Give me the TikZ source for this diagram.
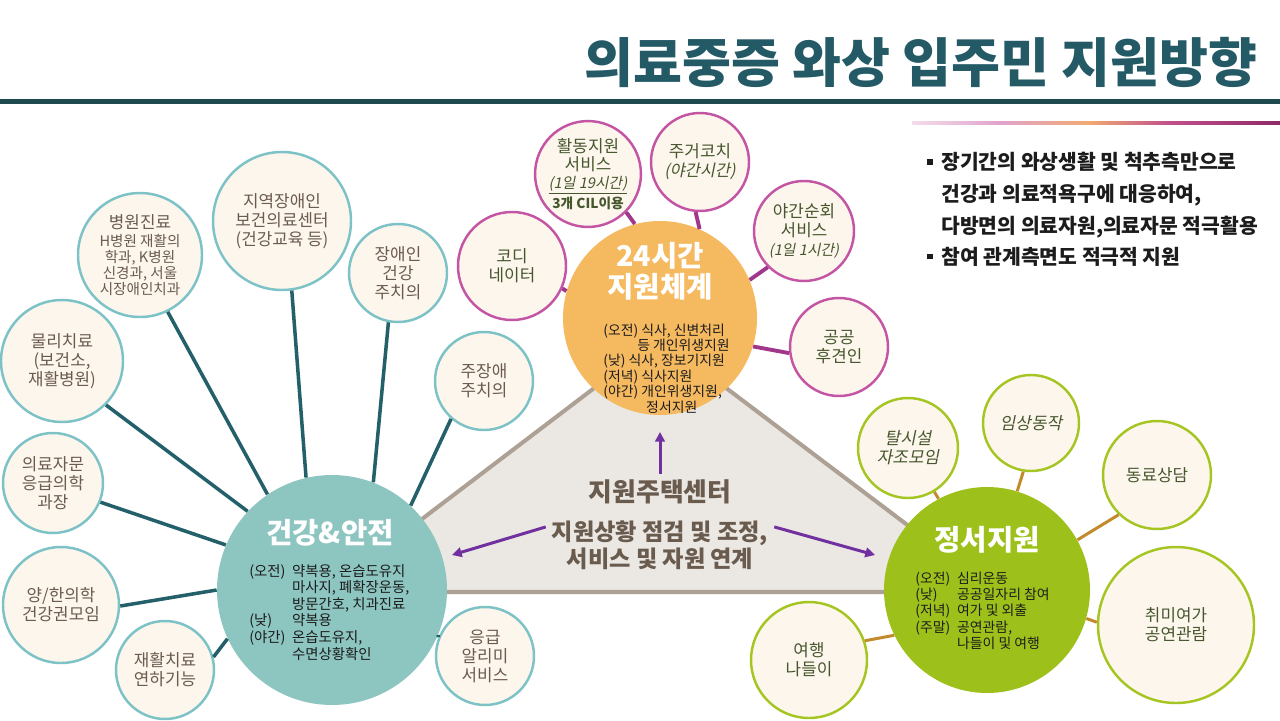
\documentclass[tikz,border=0pt]{standalone}
\usepackage{fontspec}
\setmainfont{Noto Sans CJK KR}
\newfontfamily\krslant[FakeSlant=0.2]{Noto Sans CJK KR}
\usetikzlibrary{arrows.meta}
\definecolor{titleteal}{HTML}{245A66}
\definecolor{barteal}{HTML}{1E4A4F}
\definecolor{cream}{HTML}{FDF6EC}
\definecolor{tealring}{HTML}{7CC2C6}
\definecolor{warmgrey}{HTML}{6B5B4E}
\definecolor{tealconn}{HTML}{23606A}
\definecolor{dayorange}{HTML}{F5B960}
\definecolor{healthteal}{HTML}{8DC5C0}
\definecolor{emogreen}{HTML}{9DC11A}
\definecolor{pinkring}{HTML}{C455A4}
\definecolor{pinkconn}{HTML}{A0378A}
\definecolor{greenring}{HTML}{A5C622}
\definecolor{goldconn}{HTML}{C38A2C}
\definecolor{leafText}{HTML}{46572E}
\definecolor{bodyInk}{HTML}{1C1C1C}
\definecolor{triFill}{HTML}{EBE7E2}
\definecolor{triEdge}{HTML}{ADA195}
\definecolor{centerbrown}{HTML}{6A5B4F}
\definecolor{arrowpurple}{HTML}{7030A0}
\definecolor{accA}{HTML}{F4DDEA}
\definecolor{accB}{HTML}{E0A3CC}
\definecolor{accC}{HTML}{F1AA72}
\definecolor{accD}{HTML}{C0508A}
\definecolor{accE}{HTML}{8E2868}
\pgfdeclarehorizontalshading{accentline}{100bp}{color(0bp)=(accA); color(25bp)=(accA); color(37bp)=(accB); color(49bp)=(accC); color(60bp)=(accD); color(75bp)=(accE); color(100bp)=(accE)}

\begin{document}
\begin{tikzpicture}[x=0.02cm,y=-0.02cm,
  bub/.style={circle,inner sep=0pt,align=center,minimum size={2*#1*0.02cm}},
  tealbub/.style={bub=#1,draw=tealring,line width=1.4pt,fill=cream,text=warmgrey,font=\fontsize{9.6}{10.8}\selectfont},
  pinkbub/.style={bub=#1,draw=pinkring,line width=1.4pt,fill=cream,text=leafText,font=\fontsize{9.6}{10.8}\selectfont},
  greenbub/.style={bub=#1,draw=greenring,line width=1.4pt,fill=cream,text=leafText,font=\fontsize{9.6}{10.8}\selectfont},
  hub/.style={bub=#1},
  hubtitle/.style={text=white,align=center,inner sep=0pt,font=\bfseries\fontsize{16.3}{17.6}\selectfont},
  hubbody/.style={text=bodyInk,align=left,inner sep=0pt,anchor=west},
  tealline/.style={draw=tealconn,line width=2pt},
  pinkline/.style={draw=pinkconn,line width=2.2pt},
  goldline/.style={draw=goldconn,line width=1.7pt},
  flow/.style={draw=arrowpurple,line width=1.7pt,-{Triangle[length=5.5pt,width=5.5pt]}}]
\fill[white] (0,0) rectangle (1280,720);
\useasboundingbox (0,0) rectangle (1280,720);
\fill[barteal] (0,99) rectangle (1280,104);
\shade[shading=accentline] (912,121.5) rectangle (1280,124.5);
\node[anchor=east,inner sep=0pt,text=titleteal,font=\bfseries\fontsize{30.3}{34}\selectfont] (title) at (1258,62) {의료중증 와상 입주민 지원방향};
\node[anchor=west,inner sep=0pt,text=bodyInk,font=\bfseries\fontsize{11.6}{18}\selectfont] (notes) at (927,211)
  {\begin{tabular}{@{}l@{\hspace{5pt}}l@{}}
   \raisebox{3pt}{\rule{3pt}{3pt}} & 장기간의 와상생활 및 척추측만으로\\
   & 건강과 의료적욕구에 대응하여,\\
   & 다방면의 의료자원,의료자문 적극활용\\
   \raisebox{3pt}{\rule{3pt}{3pt}} & 참여 관계측면도 적극적 지원
   \end{tabular}};
\filldraw[fill=triFill,draw=triEdge,line width=2.3pt] (660,338) -- (326,592) -- (996,592) -- cycle;
\node[hub=97,fill=dayorange] (day) at (660,318) {};
\node[hub=115,fill=healthteal] (health) at (332,590) {};
\node[hub=103,fill=emogreen] (emo) at (987,590) {};
\node[tealbub=62,font=\fontsize{8.3}{9.1}\selectfont] (hosp) at (140,255) {{\fontsize{9.6}{10}\selectfont 병원진료}\\[1pt]H병원 재활의\\학과, K병원\\신경과, 서울\\시장애인치과};
\node[tealbub=69] (region) at (282,221) {지역장애인\\보건의료센터\\(건강교육 등)};
\node[tealbub=49] (doctor) at (398,273) {장애인\\건강\\주치의};
\node[tealbub=49] (mainDoc) at (484,381) {주장애\\주치의};
\node[tealbub=61] (physio) at (62,361) {물리치료\\(보건소,\\재활병원)};
\node[tealbub=50] (advice) at (53,483) {의료자문\\응급의학\\과장};
\node[tealbub=58] (herbal) at (61,605) {양/한의학\\건강권모임};
\node[tealbub=49] (rehab) at (165,670) {재활치료\\연하기능};
\node[tealbub=49] (alarm) at (485,656) {응급\\알리미\\서비스};
\node[pinkbub=52,font=\fontsize{9.6}{9.6}\selectfont] (act) at (588,174) {활동지원\\[0.6pt]서비스\\[0.6pt]{\krslant\fontsize{8.4}{9}\selectfont\underline{(1일 19시간)}}\\{\bfseries\fontsize{7.8}{8}\selectfont 3개 CIL이용}};
\node[pinkbub=49] (coach) at (700,162) {주거코치\\{\krslant\fontsize{9.3}{10}\selectfont(야간시간)}};
\node[pinkbub=50] (night) at (804,231) {야간순회\\서비스\\{\krslant\fontsize{8.4}{9}\selectfont(1일 1시간)}};
\node[pinkbub=54] (codi) at (512,266) {코디\\네이터};
\node[pinkbub=49] (guard) at (839,347) {공공\\후견인};
\node[greenbub=50] (selfhelp) at (908,448) {\krslant 탈시설\\\krslant 자조모임};
\node[greenbub=48] (clinic) at (1031,423) {\krslant 임상동작};
\node[greenbub=54] (peer) at (1157,475) {동료상담};
\node[greenbub=78] (hobby) at (1176,625) {취미여가\\공연관람};
\node[greenbub=58] (trip) at (809,660) {여행\\나들이};
\draw[tealline] (hosp.-64) -- (health.124);
\draw[tealline] (region.-82) -- (health.103);
\draw[tealline] (doctor.-101) -- (health.69);
\draw[tealline] (mainDoc.-131) -- (health.47);
\draw[tealline] (physio.-45) -- (health.137);
\draw[tealline] (advice.-22) -- (health.157);
\draw[tealline] (herbal.-1) -- (health.180);
\draw[tealline] (rehab.15) -- (health.205);
\draw[tealline] (alarm.158) -- (health.-23);
\draw[pinkline] (act.-45) -- (day.105);
\draw[pinkline] (coach.-95) -- (day.66);
\draw[pinkline] (night.-135) -- (day.23);
\draw[pinkline] (codi.-24) -- (day.164);
\draw[pinkline] (guard.187) -- (day.-17);
\draw[goldline] (selfhelp.-59) -- (emo.118);
\draw[goldline] (clinic.-99) -- (emo.73);
\draw[goldline] (peer.-134) -- (emo.29);
\draw[goldline] (hobby.178) -- (emo.-16);
\draw[goldline] (trip.19) -- (emo.206);
\node[hubtitle] (dayTitle) at (660,271.5) {24시간\\지원체계};
\node[hubtitle] (healthTitle) at (330,533) {건강\&안전};
\node[hubtitle] (emoTitle) at (987,540) {정서지원};
\node[hubbody,font=\fontsize{7.9}{8.8}\selectfont] (dayList) at (603,368.5)
  {(오전) 식사, 신변처리\\\hspace*{19.3pt}등 개인위생지원\\(낮) 식사, 장보기지원\\(저녁) 식사지원\\(야간) 개인위생지원,\\\hspace*{24.4pt}정서지원};
\node[hubbody,font=\fontsize{8.2}{8.9}\selectfont] (healthList) at (249,614)
  {\begin{tabular}{@{}p{24.4pt}@{}l@{}}
   (오전) & 약복용, 온습도유지\\
   & 마사지, 폐확장운동,\\
   & 방문간호, 치과진료\\
   (낮) & 약복용\\
   (야간) & 온습도유지,\\
   & 수면상황확인
   \end{tabular}};
\node[hubbody,font=\fontsize{7.9}{9.2}\selectfont] (emoList) at (915,612.5)
  {\begin{tabular}{@{}p{23.8pt}@{}l@{}}
   (오전) & 심리운동\\
   (낮) & 공공일자리 참여\\
   (저녁) & 여가 및 외출\\
   (주말) & 공연관람,\\
   & 나들이 및 여행
   \end{tabular}};
\node[text=centerbrown,font=\bfseries\fontsize{14.7}{16}\selectfont] (house) at (660,492) {지원주택센터};
\node[text=centerbrown,align=center,font=\bfseries\fontsize{13.2}{13.6}\selectfont] (task) at (660,545) {지원상황 점검 및 조정,\\서비스 및 자원 연계};
\coordinate (toDay) at (660,432);
\coordinate (toHealth) at (452,555);
\coordinate (toEmo) at (875,555);
\draw[flow] (house.north) -- (toDay);
\draw[flow] (task.171) -- (toHealth);
\draw[flow] (task.9) -- (toEmo);
\end{tikzpicture}
\end{document}
